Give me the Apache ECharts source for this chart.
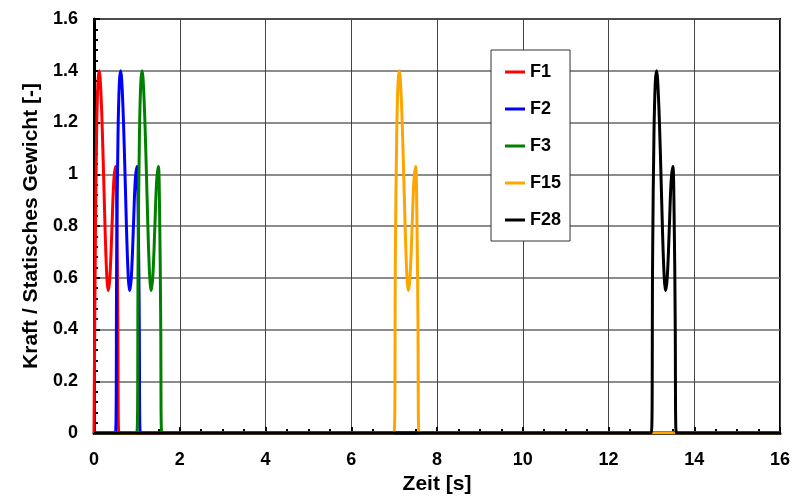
<!DOCTYPE html>
<html>
<head>
    <meta charset="utf-8">
    <title>Kraft / Statisches Gewicht</title>
    <script src="https://cdn.jsdelivr.net/npm/echarts@6/dist/echarts.min.js"></script>
    <style>
        html, body { margin: 0; padding: 0; background: #fff; }
        #chart { width: 801px; height: 500px; }
    </style>
</head>
<body>
    <div id="chart"></div>
    <script>
        // Zeitpunkte je Schritt [s] (inkl. Nulllinie am Anfang und Ende)
        const timeF1 = [0, 0.03, 0.06, 0.09, 0.12, 0.16, 0.21, 0.26, 0.30, 0.33, 0.37, 0.42, 0.46, 0.50, 0.53, 0.555, 0.58, 16];
        const timeF2 = [0, 0.50, 0.53, 0.56, 0.59, 0.62, 0.66, 0.71, 0.76, 0.80, 0.83, 0.87, 0.92, 0.96, 1.00, 1.03, 1.055, 1.08, 16];
        const timeF3 = [0, 1.00, 1.03, 1.06, 1.09, 1.12, 1.16, 1.21, 1.26, 1.30, 1.33, 1.37, 1.42, 1.46, 1.50, 1.53, 1.555, 1.58, 16];
        const timeF15 = [0, 7.00, 7.03, 7.06, 7.09, 7.12, 7.16, 7.21, 7.26, 7.30, 7.33, 7.37, 7.42, 7.46, 7.50, 7.53, 7.555, 7.58, 16];
        const timeF28 = [0, 13.00, 13.03, 13.06, 13.09, 13.12, 13.16, 13.21, 13.26, 13.30, 13.33, 13.37, 13.42, 13.46, 13.50, 13.53, 13.555, 13.58, 16];

        // Kraftverlauf eines Schrittes (Kraft / statisches Gewicht)
        const stepForce = [0, 0.70, 1.15, 1.35, 1.40, 1.32, 1.08, 0.78, 0.60, 0.55, 0.60, 0.80, 0.97, 1.03, 0.85, 0.45, 0];
        const forceF1 = stepForce.concat([0]);
        const forceStep = [0].concat(stepForce, [0]);

        const names = ['F1', 'F2', 'F3', 'F15', 'F28'];
        const colors = ['#ff0000', '#0000ff', '#008000', '#ffa500', '#000000'];
        const times = [timeF1, timeF2, timeF3, timeF15, timeF28];
        const forces = [forceF1, forceStep, forceStep, forceStep, forceStep];

        const xTicks = [0, 2, 4, 6, 8, 10, 12, 14, 16];
        const yTicks = [0, 0.2, 0.4, 0.6, 0.8, 1, 1.2, 1.4, 1.6];

        const font = 'Liberation Sans, Arial, sans-serif';

        const series = names.map(function (n, i) {
            return {
                name: n,
                type: 'line',
                data: times[i].map(function (t, k) { return [t, forces[i][k]]; }),
                smooth: 0.4,
                showSymbol: false,
                symbol: 'none',
                lineStyle: { color: colors[i], width: 3 },
                itemStyle: { color: colors[i] },
                z: 3 + i
            };
        });

        const chart = echarts.init(document.getElementById('chart'));
        chart.setOption({
            animation: false,
            backgroundColor: '#fff',
            grid: {
                left: 94, right: 21, top: 19, bottom: 67,
                show: true, borderColor: '#000', borderWidth: 2,
                backgroundColor: 'transparent'
            },
            legend: {
                orient: 'vertical',
                left: 491, top: 50,
                padding: [13, 9, 12, 14],
                backgroundColor: '#fff',
                borderColor: '#333', borderWidth: 1,
                borderRadius: 0,
                icon: 'rect',
                itemWidth: 20, itemHeight: 3,
                itemGap: 19, itemTextGap: 5,
                data: names,
                textStyle: { fontFamily: font, fontWeight: 'bold', fontSize: 18, color: '#000', lineHeight: 18 }
            },
            xAxis: {
                type: 'value',
                min: 0, max: 16, interval: 2,
                name: 'Zeit [s]',
                nameLocation: 'middle',
                nameGap: 36,
                nameTextStyle: { fontFamily: font, fontWeight: 'bold', fontSize: 21, color: '#000' },
                axisLine: { onZero: false, lineStyle: { color: '#000', width: 3 } },
                axisTick: { inside: true, length: 6, lineStyle: { color: '#000', width: 2 } },
                minorTick: { show: true, splitNumber: 4, length: 4, lineStyle: { color: '#000', width: 2 } },
                axisLabel: {
                    margin: 18, fontFamily: font, fontWeight: 'bold', fontSize: 18, color: '#000',
                    formatter: function (v) { return xTicks.indexOf(v) >= 0 ? String(v) : ''; }
                },
                splitLine: { show: true, lineStyle: { color: '#444', width: 1 } }
            },
            yAxis: {
                type: 'value',
                min: 0, max: 1.6, interval: 0.2,
                name: 'Kraft / Statisches Gewicht [-]',
                nameLocation: 'middle',
                nameGap: 50,
                nameTextStyle: { fontFamily: font, fontWeight: 'bold', fontSize: 21, color: '#000' },
                axisLine: { onZero: false, lineStyle: { color: '#000', width: 3 } },
                axisTick: { inside: true, length: 6, lineStyle: { color: '#000', width: 2 } },
                minorTick: { show: true, splitNumber: 5, length: 4, lineStyle: { color: '#000', width: 2 } },
                axisLabel: {
                    margin: 16, fontFamily: font, fontWeight: 'bold', fontSize: 18, color: '#000',
                    formatter: function (v) {
                        const r = Math.round(v * 10) / 10;
                        return yTicks.indexOf(r) >= 0 ? String(r) : '';
                    }
                },
                splitLine: { show: true, lineStyle: { color: '#666', width: 1.5 } }
            },
            series: series
        });
    </script>
</body>
</html>
